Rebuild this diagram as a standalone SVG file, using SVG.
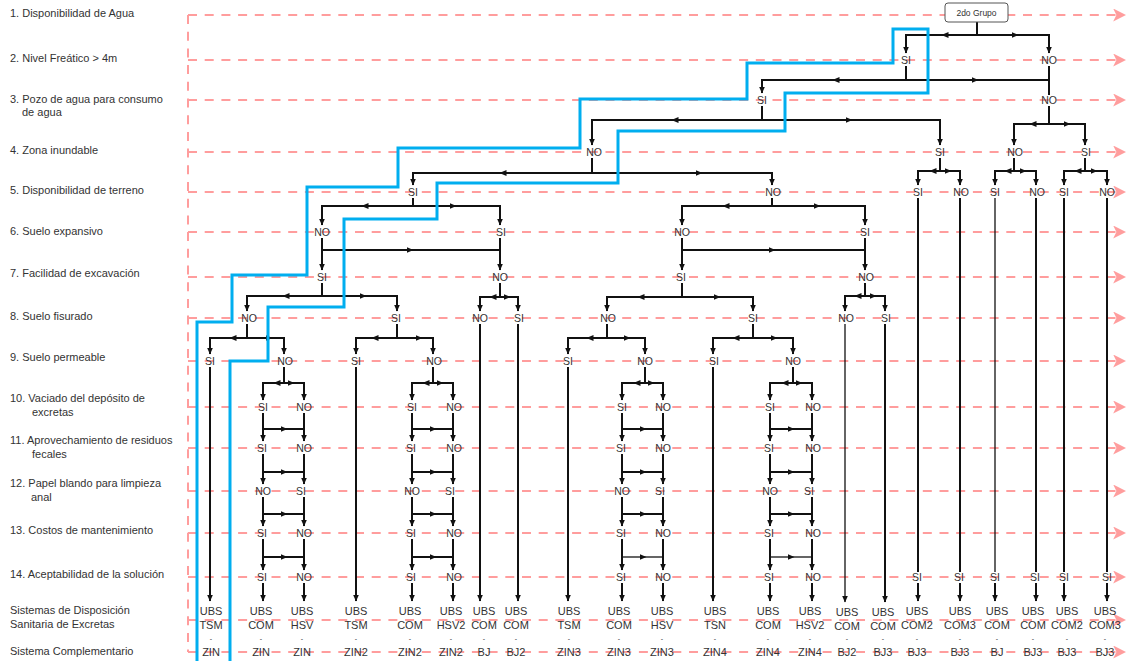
<svg xmlns="http://www.w3.org/2000/svg" width="1140" height="661" viewBox="0 0 1140 661">
<style>
.lbl{font-family:"Liberation Sans",Arial,sans-serif;font-size:11px;fill:#333}
.nd{font-family:"Liberation Sans",Arial,sans-serif;font-size:10.5px;fill:#333;text-anchor:middle}
.out{font-family:"Liberation Sans",Arial,sans-serif;font-size:11px;fill:#333;text-anchor:middle}
.dash{font-family:"Liberation Sans",Arial,sans-serif;font-size:7px;fill:#333;text-anchor:middle}
.row{stroke:#ff9d9d;stroke-width:2;stroke-dasharray:9 7.7;fill:none}
.rowa{stroke:#ff9d9d;stroke-width:2;stroke-dasharray:9 7.7;fill:none;marker-end:url(#p)}
.c{stroke:#111;stroke-width:2;fill:none}
.ca{stroke:#111;stroke-width:2;fill:none;marker-end:url(#a)}
.thin{stroke-width:1.3}
.blue{stroke:#00aeef;stroke-width:3;fill:none;stroke-linejoin:miter}
</style>
<defs>
<marker id="a" markerUnits="userSpaceOnUse" viewBox="0 0 7 6" refX="6.5" refY="3" markerWidth="7" markerHeight="6" orient="auto"><path d="M0,0L7,3L0,6z" fill="#111"/></marker>
<marker id="p" markerUnits="userSpaceOnUse" viewBox="0 0 12 12" refX="10" refY="6" markerWidth="13" markerHeight="13" orient="auto"><path d="M0,0L12,6L0,12L3,6z" fill="#ff9d9d"/></marker>
</defs>
<rect width="1140" height="661" fill="#fff"/>
<g id="rows">
<path class="row" d="M188,15V652"/>
<path class="rowa" d="M188,15H1124"/>
<path class="rowa" d="M188,60H1124"/>
<path class="rowa" d="M188,100H1124"/>
<path class="rowa" d="M188,152H1124"/>
<path class="rowa" d="M188,192H1124"/>
<path class="rowa" d="M188,232H1124"/>
<path class="rowa" d="M188,277H1124"/>
<path class="rowa" d="M188,318H1124"/>
<path class="rowa" d="M188,361H1124"/>
<path class="rowa" d="M188,407H1124"/>
<path class="rowa" d="M188,448H1124"/>
<path class="rowa" d="M188,491H1124"/>
<path class="rowa" d="M188,533H1124"/>
<path class="rowa" d="M188,577H1124"/>
<path class="rowa" d="M188,620H1124"/>
<path class="rowa" d="M188,652H1124"/>
</g>
<g id="criteria">
<text class="lbl" x="10" y="17">1. Disponibilidad de Agua</text>
<text class="lbl" x="10" y="62">2. Nivel Freático &gt; 4m</text>
<text class="lbl" x="10" y="103">3. Pozo de agua para consumo</text>
<text class="lbl" x="22" y="116">de agua</text>
<text class="lbl" x="10" y="154">4. Zona inundable</text>
<text class="lbl" x="10" y="194">5. Disponibilidad de terreno</text>
<text class="lbl" x="10" y="235">6. Suelo expansivo</text>
<text class="lbl" x="10" y="277">7. Facilidad de excavación</text>
<text class="lbl" x="10" y="320">8. Suelo fisurado</text>
<text class="lbl" x="10" y="361">9. Suelo permeable</text>
<text class="lbl" x="10" y="402">10. Vaciado del depósito de</text>
<text class="lbl" x="32" y="416">excretas</text>
<text class="lbl" x="10" y="444">11. Aprovechamiento de residuos</text>
<text class="lbl" x="32" y="458">fecales</text>
<text class="lbl" x="10" y="487">12. Papel blando para limpieza</text>
<text class="lbl" x="31" y="501">anal</text>
<text class="lbl" x="10" y="534">13. Costos de mantenimiento</text>
<text class="lbl" x="10" y="578">14. Aceptabilidad de la solución</text>
<text class="lbl" x="10" y="614">Sistemas de Disposición</text>
<text class="lbl" x="10" y="628">Sanitaria de Excretas</text>
<text class="lbl" x="10" y="655">Sistema Complementario</text>
</g>
<g id="connectors">
<path class="c" d="M977,22V35"/>
<path class="ca" d="M977,35H942"/><path class="ca" d="M942,35H906V53"/>
<path class="ca" d="M977,35H1018"/><path class="ca" d="M1018,35H1049V53"/>
<path class="c" d="M906,66V80"/>
<path class="ca" d="M906,80H833"/><path class="ca" d="M833,80H762V93"/>
<path class="ca" d="M906,80H978"/><path class="c" d="M978,80H1049"/>
<path class="c" d="M1049,66V95"/>
<path class="c" d="M762,106V120"/>
<path class="ca" d="M762,120H672"/><path class="ca" d="M672,120H592V145"/>
<path class="ca" d="M762,120H852"/><path class="ca" d="M852,120H940V145"/>
<path class="c" d="M1049,106V124"/>
<path class="ca" d="M1049,124H1030"/><path class="ca" d="M1030,124H1014V145"/>
<path class="ca" d="M1049,124H1070"/><path class="ca" d="M1070,124H1085V145"/>
<path class="c" d="M592,158V173"/>
<path class="ca" d="M592,173H500"/><path class="ca" d="M500,173H413V185"/>
<path class="ca" d="M592,173H702"/><path class="ca" d="M702,173H772V185"/>
<path class="c" d="M940,158V171"/>
<path class="ca" d="M940,171H930"/><path class="ca" d="M930,171H918V185"/>
<path class="ca" d="M940,171H951"/><path class="ca" d="M951,171H960V185"/>
<path class="c" d="M1014,158V171"/>
<path class="ca" d="M1014,171H1005"/><path class="ca" d="M1005,171H995V185"/>
<path class="ca" d="M1014,171H1026"/><path class="ca" d="M1026,171H1036V185"/>
<path class="c" d="M1085,158V171"/>
<path class="ca" d="M1085,171H1075"/><path class="ca" d="M1075,171H1064V185"/>
<path class="ca" d="M1085,171H1097"/><path class="ca" d="M1097,171H1107V185"/>
<path class="c" d="M413,198V206"/>
<path class="ca" d="M413,206H362"/><path class="ca" d="M362,206H322V225"/>
<path class="ca" d="M413,206H456"/><path class="ca" d="M456,206H500V225"/>
<path class="c" d="M772,198V206"/>
<path class="ca" d="M772,206H723"/><path class="ca" d="M723,206H682V225"/>
<path class="ca" d="M772,206H820"/><path class="ca" d="M820,206H865V225"/>
<path class="ca" d="M322,238V270"/>
<path class="ca" d="M322,250H413"/><path class="c" d="M413,250H500"/>
<path class="ca" d="M500,238V270"/>
<path class="ca" d="M682,238V270"/>
<path class="ca" d="M682,250H775"/><path class="c" d="M775,250H865"/>
<path class="ca" d="M865,238V270"/>
<path class="c" d="M322,283V296"/>
<path class="ca" d="M322,296H283"/><path class="ca" d="M283,296H247V311"/>
<path class="ca" d="M322,296H366"/><path class="ca" d="M366,296H397V311"/>
<path class="c" d="M500,283V297"/>
<path class="ca" d="M500,297H490"/><path class="ca" d="M490,297H480V311"/>
<path class="ca" d="M500,297H510"/><path class="ca" d="M510,297H518V311"/>
<path class="c" d="M682,283V297"/>
<path class="ca" d="M682,297H638"/><path class="ca" d="M638,297H607V311"/>
<path class="ca" d="M682,297H720"/><path class="ca" d="M720,297H753V311"/>
<path class="c" d="M865,283V296"/>
<path class="ca" d="M865,296H855"/><path class="ca" d="M855,296H845V311"/>
<path class="ca" d="M865,296H876"/><path class="ca" d="M876,296H885V311"/>
<path class="c" d="M247,324V338"/>
<path class="ca" d="M247,338H230"/><path class="ca" d="M230,338H210V354"/>
<path class="ca" d="M247,338H272"/><path class="ca" d="M272,338H284V354"/>
<path class="c" d="M397,324V338"/>
<path class="ca" d="M397,338H372"/><path class="ca" d="M372,338H356V354"/>
<path class="ca" d="M397,338H422"/><path class="ca" d="M422,338H433V354"/>
<path class="c" d="M607,324V338"/>
<path class="ca" d="M607,338H587"/><path class="ca" d="M587,338H568V354"/>
<path class="ca" d="M607,338H630"/><path class="ca" d="M630,338H645V354"/>
<path class="c" d="M753,324V338"/>
<path class="ca" d="M753,338H733"/><path class="ca" d="M733,338H713V354"/>
<path class="ca" d="M753,338H777"/><path class="ca" d="M777,338H793V354"/>
<path class="c" d="M284,367V383"/>
<path class="ca" d="M284,383H274"/><path class="ca" d="M274,383H263V400"/>
<path class="ca" d="M284,383H294"/><path class="ca" d="M294,383H304V400"/>
<path class="c" d="M433,367V383"/>
<path class="ca" d="M433,383H423"/><path class="ca" d="M423,383H412V400"/>
<path class="ca" d="M433,383H443"/><path class="ca" d="M443,383H453V400"/>
<path class="c" d="M645,367V383"/>
<path class="ca" d="M645,383H634"/><path class="ca" d="M634,383H622V400"/>
<path class="ca" d="M645,383H654"/><path class="ca" d="M654,383H663V400"/>
<path class="c" d="M793,367V383"/>
<path class="ca" d="M793,383H782"/><path class="ca" d="M782,383H770V400"/>
<path class="ca" d="M793,383H802"/><path class="ca" d="M802,383H812V400"/>
<path class="ca" d="M263,413V441"/><path class="ca" d="M263,454V484"/><path class="ca" d="M263,497V526"/><path class="ca" d="M263,539V570"/><path class="ca" d="M263,583V601"/>
<path class="ca" d="M304,413V441"/><path class="ca" d="M304,454V484"/><path class="ca" d="M304,497V526"/><path class="ca" d="M304,539V570"/><path class="ca" d="M304,583V601"/>
<path class="ca" d="M263,429H287"/><path class="c" d="M287,429H304"/>
<path class="ca" d="M263,472H287"/><path class="c" d="M287,472H304"/>
<path class="ca" d="M263,514H287"/><path class="c" d="M287,514H304"/>
<path class="ca" d="M263,557H287"/><path class="c" d="M287,557H304"/>
<path class="ca" d="M412,413V441"/><path class="ca" d="M412,454V484"/><path class="ca" d="M412,497V526"/><path class="ca" d="M412,539V570"/><path class="ca" d="M412,583V601"/>
<path class="ca" d="M453,413V441"/><path class="ca" d="M453,454V484"/><path class="ca" d="M453,497V526"/><path class="ca" d="M453,539V570"/><path class="ca" d="M453,583V601"/>
<path class="ca" d="M412,429H436"/><path class="c" d="M436,429H453"/>
<path class="ca" d="M412,472H436"/><path class="c" d="M436,472H453"/>
<path class="ca" d="M412,514H436"/><path class="c" d="M436,514H453"/>
<path class="ca" d="M412,557H436"/><path class="c" d="M436,557H453"/>
<path class="ca" d="M622,413V441"/><path class="ca" d="M622,454V484"/><path class="ca" d="M622,497V526"/><path class="ca" d="M622,539V570"/><path class="ca" d="M622,583V601"/>
<path class="ca" d="M663,413V441"/><path class="ca" d="M663,454V484"/><path class="ca" d="M663,497V526"/><path class="ca" d="M663,539V570"/><path class="ca" d="M663,583V601"/>
<path class="ca" d="M622,429H646"/><path class="c" d="M646,429H663"/>
<path class="ca" d="M622,472H646"/><path class="c" d="M646,472H663"/>
<path class="ca" d="M622,514H646"/><path class="c" d="M646,514H663"/>
<path class="ca thin" d="M622,557H646"/><path class="c thin" d="M646,557H663"/>
<path class="ca" d="M770,413V441"/><path class="ca" d="M770,454V484"/><path class="ca" d="M770,497V526"/><path class="ca" d="M770,539V570"/><path class="ca" d="M770,583V601"/>
<path class="ca" d="M812,413V441"/><path class="ca" d="M812,454V484"/><path class="ca" d="M812,497V526"/><path class="ca" d="M812,539V570"/><path class="ca" d="M812,583V601"/>
<path class="ca" d="M770,429H794"/><path class="c" d="M794,429H812"/>
<path class="ca" d="M770,472H794"/><path class="c" d="M794,472H812"/>
<path class="ca" d="M770,514H794"/><path class="c" d="M794,514H812"/>
<path class="ca thin" d="M770,557H794"/><path class="c thin" d="M794,557H812"/>
<path class="ca" d="M210,367V601"/>
<path class="ca" d="M356,367V601"/>
<path class="ca" d="M480,324V601"/>
<path class="ca" d="M518,324V601"/>
<path class="ca" d="M568,367V601"/>
<path class="ca" d="M713,367V601"/>
<path class="ca thin" d="M845,324V602"/>
<path class="ca" d="M885,324V602"/>
<path class="c" d="M918,198V572"/><path class="ca" d="M918,583V601"/>
<path class="c" d="M960,198V572"/><path class="ca" d="M960,583V601"/>
<path class="c thin" d="M995,198V572"/><path class="ca" d="M995,583V601"/>
<path class="c" d="M1036,198V572"/><path class="ca" d="M1036,583V601"/>
<path class="c" d="M1064,198V572"/><path class="ca" d="M1064,583V601"/>
<path class="c" d="M1107,198V572"/><path class="ca" d="M1107,583V601"/>
</g>
<g id="root"><rect x="945" y="3" width="63" height="19" rx="3" fill="#fff" stroke="#555" stroke-width="1"/><text class="nd" x="976.5" y="16" style="font-size:8.5px">2do Grupo</text></g>
<g id="r2"><text class="nd" x="906" y="64">SI</text><text class="nd" x="1049" y="64">NO</text></g>
<g id="r3"><text class="nd" x="762" y="104">SI</text><text class="nd" x="1049" y="104">NO</text></g>
<g id="r4"><text class="nd" x="594" y="156">NO</text><text class="nd" x="940" y="156">SI</text><text class="nd" x="1015" y="156">NO</text><text class="nd" x="1086" y="156">SI</text></g>
<g id="r5"><text class="nd" x="413" y="196">SI</text><text class="nd" x="773" y="196">NO</text><text class="nd" x="918" y="196">SI</text><text class="nd" x="961" y="196">NO</text><text class="nd" x="995" y="196">SI</text><text class="nd" x="1037" y="196">NO</text><text class="nd" x="1064" y="196">SI</text><text class="nd" x="1107" y="196">NO</text></g>
<g id="r6"><text class="nd" x="322" y="236">NO</text><text class="nd" x="501" y="236">SI</text><text class="nd" x="682" y="236">NO</text><text class="nd" x="865" y="236">SI</text></g>
<g id="r7"><text class="nd" x="322" y="281">SI</text><text class="nd" x="500" y="281">NO</text><text class="nd" x="681" y="281">SI</text><text class="nd" x="866" y="281">NO</text></g>
<g id="r8"><text class="nd" x="249" y="322">NO</text><text class="nd" x="396" y="322">SI</text><text class="nd" x="480" y="322">NO</text><text class="nd" x="519" y="322">SI</text><text class="nd" x="608" y="322">NO</text><text class="nd" x="753" y="322">SI</text><text class="nd" x="846" y="322">NO</text><text class="nd" x="886" y="322">SI</text></g>
<g id="r9"><text class="nd" x="210" y="365">SI</text><text class="nd" x="285" y="365">NO</text><text class="nd" x="356" y="365">SI</text><text class="nd" x="434" y="365">NO</text><text class="nd" x="568" y="365">SI</text><text class="nd" x="645" y="365">NO</text><text class="nd" x="714" y="365">SI</text><text class="nd" x="793" y="365">NO</text></g>
<g id="r10"><text class="nd" x="263" y="411">SI</text><text class="nd" x="304" y="411">NO</text><text class="nd" x="412" y="411">SI</text><text class="nd" x="454" y="411">NO</text><text class="nd" x="622" y="411">SI</text><text class="nd" x="663" y="411">NO</text><text class="nd" x="770" y="411">SI</text><text class="nd" x="813" y="411">NO</text></g>
<g id="r11"><text class="nd" x="262" y="452">SI</text><text class="nd" x="304" y="452">NO</text><text class="nd" x="411" y="452">SI</text><text class="nd" x="454" y="452">NO</text><text class="nd" x="621" y="452">SI</text><text class="nd" x="663" y="452">NO</text><text class="nd" x="769" y="452">SI</text><text class="nd" x="813" y="452">NO</text></g>
<g id="r12"><text class="nd" x="263" y="495">NO</text><text class="nd" x="301" y="495">SI</text><text class="nd" x="412" y="495">NO</text><text class="nd" x="450" y="495">SI</text><text class="nd" x="622" y="495">NO</text><text class="nd" x="660" y="495">SI</text><text class="nd" x="770" y="495">NO</text><text class="nd" x="809" y="495">SI</text></g>
<g id="r13"><text class="nd" x="262" y="537">SI</text><text class="nd" x="304" y="537">NO</text><text class="nd" x="411" y="537">SI</text><text class="nd" x="454" y="537">NO</text><text class="nd" x="621" y="537">SI</text><text class="nd" x="663" y="537">NO</text><text class="nd" x="769" y="537">SI</text><text class="nd" x="813" y="537">NO</text></g>
<g id="r14"><text class="nd" x="262" y="581">SI</text><text class="nd" x="304" y="581">NO</text><text class="nd" x="411" y="581">SI</text><text class="nd" x="454" y="581">NO</text><text class="nd" x="621" y="581">SI</text><text class="nd" x="663" y="581">NO</text><text class="nd" x="769" y="581">SI</text><text class="nd" x="813" y="581">NO</text><text class="nd" x="917" y="581">SI</text><text class="nd" x="959" y="581">SI</text><text class="nd" x="995" y="581">SI</text><text class="nd" x="1035" y="581">SI</text><text class="nd" x="1064" y="581">SI</text><text class="nd" x="1107" y="581">SI</text></g>
<g id="outputs">
<g id="o1"><text class="out" x="211" y="615">UBS</text><text class="out" x="211" y="629">TSM</text><text class="dash" x="211" y="641">-</text><text class="out" x="211" y="656">ZIN</text></g>
<g id="o2"><text class="out" x="261" y="615">UBS</text><text class="out" x="261" y="629">COM</text><text class="dash" x="261" y="641">-</text><text class="out" x="261" y="656">ZIN</text></g>
<g id="o3"><text class="out" x="302" y="615">UBS</text><text class="out" x="302" y="629">HSV</text><text class="dash" x="302" y="641">-</text><text class="out" x="302" y="656">ZIN</text></g>
<g id="o4"><text class="out" x="356" y="615">UBS</text><text class="out" x="356" y="629">TSM</text><text class="dash" x="356" y="641">-</text><text class="out" x="356" y="656">ZIN2</text></g>
<g id="o5"><text class="out" x="410" y="615">UBS</text><text class="out" x="410" y="629">COM</text><text class="dash" x="410" y="641">-</text><text class="out" x="410" y="656">ZIN2</text></g>
<g id="o6"><text class="out" x="451" y="615">UBS</text><text class="out" x="451" y="629">HSV2</text><text class="dash" x="451" y="641">-</text><text class="out" x="451" y="656">ZIN2</text></g>
<g id="o7"><text class="out" x="484" y="615">UBS</text><text class="out" x="484" y="629">COM</text><text class="dash" x="484" y="641">-</text><text class="out" x="484" y="656">BJ</text></g>
<g id="o8"><text class="out" x="516" y="615">UBS</text><text class="out" x="516" y="629">COM</text><text class="dash" x="516" y="641">-</text><text class="out" x="516" y="656">BJ2</text></g>
<g id="o9"><text class="out" x="569" y="615">UBS</text><text class="out" x="569" y="629">TSM</text><text class="dash" x="569" y="641">-</text><text class="out" x="569" y="656">ZIN3</text></g>
<g id="o10"><text class="out" x="619" y="615">UBS</text><text class="out" x="619" y="629">COM</text><text class="dash" x="619" y="641">-</text><text class="out" x="619" y="656">ZIN3</text></g>
<g id="o11"><text class="out" x="662" y="615">UBS</text><text class="out" x="662" y="629">HSV</text><text class="dash" x="662" y="641">-</text><text class="out" x="662" y="656">ZIN3</text></g>
<g id="o12"><text class="out" x="715" y="615">UBS</text><text class="out" x="715" y="629">TSN</text><text class="dash" x="715" y="641">-</text><text class="out" x="715" y="656">ZIN4</text></g>
<g id="o13"><text class="out" x="768" y="615">UBS</text><text class="out" x="768" y="629">COM</text><text class="dash" x="768" y="641">-</text><text class="out" x="768" y="656">ZIN4</text></g>
<g id="o14"><text class="out" x="810" y="615">UBS</text><text class="out" x="810" y="629">HSV2</text><text class="dash" x="810" y="641">-</text><text class="out" x="810" y="656">ZIN4</text></g>
<g id="o15"><text class="out" x="847" y="616">UBS</text><text class="out" x="847" y="630">COM</text><text class="dash" x="847" y="641">-</text><text class="out" x="847" y="656">BJ2</text></g>
<g id="o16"><text class="out" x="883" y="616">UBS</text><text class="out" x="883" y="630">COM</text><text class="dash" x="883" y="641">-</text><text class="out" x="883" y="656">BJ3</text></g>
<g id="o17"><text class="out" x="917" y="615">UBS</text><text class="out" x="917" y="629">COM2</text><text class="dash" x="917" y="641">-</text><text class="out" x="917" y="656">BJ3</text></g>
<g id="o18"><text class="out" x="960" y="615">UBS</text><text class="out" x="960" y="629">COM3</text><text class="dash" x="960" y="641">-</text><text class="out" x="960" y="656">BJ3</text></g>
<g id="o19"><text class="out" x="997" y="615">UBS</text><text class="out" x="997" y="629">COM</text><text class="dash" x="997" y="641">-</text><text class="out" x="997" y="656">BJ</text></g>
<g id="o20"><text class="out" x="1033" y="615">UBS</text><text class="out" x="1033" y="629">COM</text><text class="dash" x="1033" y="641">-</text><text class="out" x="1033" y="656">BJ3</text></g>
<g id="o21"><text class="out" x="1067" y="615">UBS</text><text class="out" x="1067" y="629">COM2</text><text class="dash" x="1067" y="641">-</text><text class="out" x="1067" y="656">BJ3</text></g>
<g id="o22"><text class="out" x="1105" y="615">UBS</text><text class="out" x="1105" y="629">COM3</text><text class="dash" x="1105" y="641">-</text><text class="out" x="1105" y="656">BJ3</text></g>
</g>
<g id="highlight">
<polyline class="blue" points="197,661 197,322 232,322 232,275 307,275 307,187 398,187 398,148 580,148 580,99 747,99 747,63 893,63 893,29 928,29 928,93 785,93 785,131 618,131 618,183 437,183 437,219 344,219 344,307 268,307 268,361 230,361 230,661"/>
</g>
</svg>
